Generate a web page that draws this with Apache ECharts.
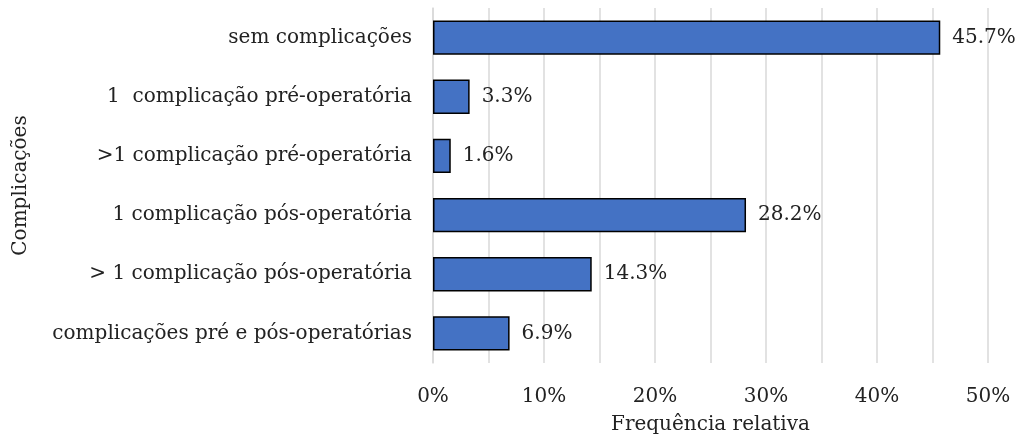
<!DOCTYPE html>
<html>
<head>
<meta charset="utf-8">
<script src="https://cdn.jsdelivr.net/npm/echarts@6/dist/echarts.min.js"></script>
<style>
  html, body { margin: 0; padding: 0; background: #fff; }
  #grafica { width: 1029px; height: 441px; }
</style>
</head>
<body>
<div id="grafica"></div>
<script>
// categorias (de cima para baixo)
let categorias = [
    'sem complicações',
    '1  complicação pré-operatória',
    '>1 complicação pré-operatória',
    '1 complicação pós-operatória',
    '> 1 complicação pós-operatória',
    'complicações pré e pós-operatórias'
];
let frequencias = [45.7, 3.3, 1.6, 28.2, 14.3, 6.9];
let ticksX = [0, 10, 20, 30, 40, 50];

let fonte = 'DejaVu Serif';
let tam = 20;

let chartDom = document.getElementById('grafica');
let myChart = echarts.init(chartDom);
let option = {
    animation: false,
    textStyle: { fontFamily: fonte },
    grid: { left: 433, right: 41, top: 8, bottom: 78 },
    xAxis: {
        type: 'value',
        min: 0,
        max: 50,
        interval: 5,
        name: 'Frequência relativa',
        nameLocation: 'middle',
        nameGap: 52,
        nameTextStyle: { fontFamily: fonte, fontSize: tam, color: '#222' },
        axisLine: { show: false },
        axisTick: { show: false },
        axisLabel: {
            fontFamily: fonte, fontSize: tam, color: '#222', margin: 24,
            formatter: function (v) { return ticksX.indexOf(v) >= 0 ? v + '%' : ''; }
        },
        splitLine: { lineStyle: { color: '#d9d9d9', width: 1.5 } }
    },
    yAxis: {
        type: 'category',
        inverse: true,
        data: categorias,
        name: 'Complicações',
        nameLocation: 'middle',
        nameGap: 402,
        nameRotate: 90,
        nameTextStyle: { fontFamily: fonte, fontSize: tam, color: '#222' },
        axisLine: { show: true, lineStyle: { color: '#d9d9d9', width: 1.5 } },
        axisTick: { show: false },
        axisLabel: { fontFamily: fonte, fontSize: tam, color: '#222', margin: 21 }
    },
    series: [{
        type: 'bar',
        data: frequencias,
        barCategoryGap: '42%',
        itemStyle: { color: '#4472C4', borderColor: '#000', borderWidth: 1.5 },
        label: {
            show: true,
            position: 'right',
            distance: 12,
            fontFamily: fonte,
            fontSize: tam,
            color: '#222',
            formatter: function (p) { return p.value.toFixed(1) + '%'; }
        }
    }]
};
option && myChart.setOption(option);
</script>
</body>
</html>
